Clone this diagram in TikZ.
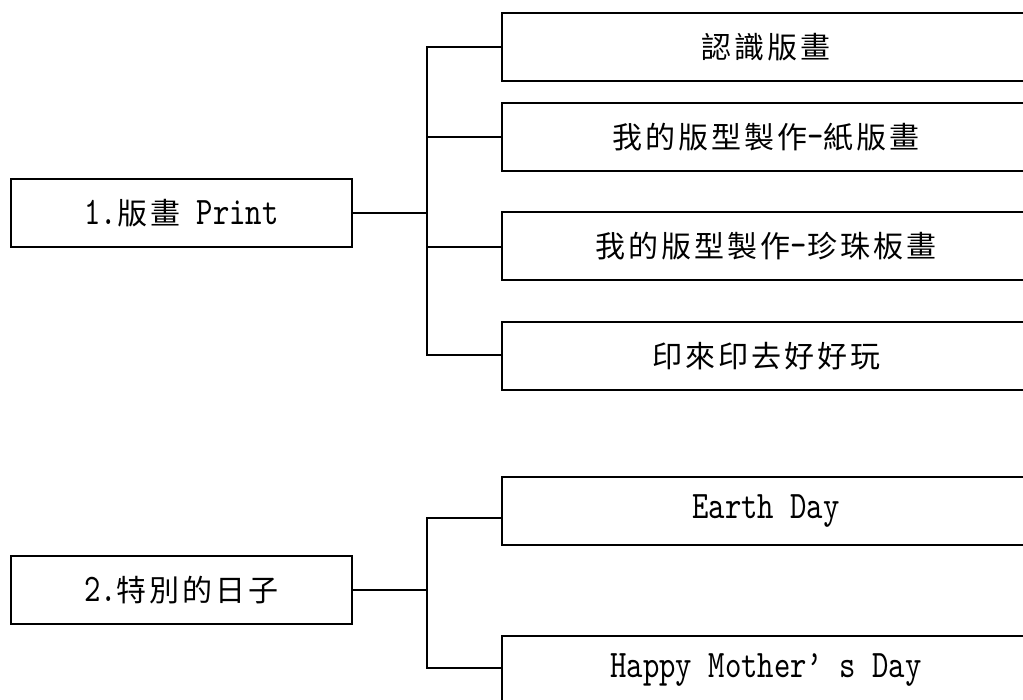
\documentclass[tikz,border=0pt]{standalone}
\usepackage{fontspec}
\newfontfamily\cjkfont[LetterSpace=10]{Noto Sans CJK TC}
\newfontfamily\latfont[Scale=1.3,FakeStretch=0.8]{lmmono10-regular.otf}
\newcommand\zh[1]{{\cjkfont #1}}
\newcommand\en[1]{{\latfont #1}}
\tikzset{
  box/.style={draw, line width=2pt, minimum height=68pt, inner sep=0pt,
    font=\fontsize{30}{32}\selectfont},
  lbox/.style={box, minimum width=341pt},
  rbox/.style={box, minimum width=528pt},
  conn/.style={line width=2pt}
}
\begin{document}
\begin{tikzpicture}[x=1pt,y=-1pt]
\useasboundingbox (0,0) rectangle (1023,699);
\clip (0,0) rectangle (1023,699);
% group 1
\node[lbox] (L1) at (181.5,213) {\en{1.}\zh{版畫}\en{ Print}};
\node[rbox] (R1) at (766,47) {\zh{認識版畫}};
\node[rbox] (R2) at (766,137) {\zh{我的版型製作}\en{-}\zh{紙版畫}};
\node[rbox] (R3) at (766,246) {\zh{我的版型製作}\en{-}\zh{珍珠板畫}};
\node[rbox] (R4) at (766,356) {\zh{印來印去好好玩}};
\coordinate (j1) at (427,47);
\coordinate (j2) at (427,137);
\coordinate (j3) at (427,247);
\coordinate (j4) at (427,355);
\draw[conn] (L1.east) -- (L1.east -| j1);
\draw[conn] (R1.west |- j1) -- (j1) -- (j4) -- (R4.west |- j4);
\draw[conn] (j2) -- (R2.west |- j2);
\draw[conn] (j3) -- (R3.west |- j3);
% group 2
\node[lbox] (L2) at (181.5,590) {\en{2.}\zh{特別的日子}};
\node[rbox] (R5) at (766,511) {\en{Earth Day}};
\node[rbox] (R6) at (766,670) {\en{Happy Mother’~s Day}};
\coordinate (k1) at (427,518);
\coordinate (k2) at (427,668);
\draw[conn] (L2.east) -- (L2.east -| k1);
\draw[conn] (R5.west |- k1) -- (k1) -- (k2) -- (R6.west |- k2);
\end{tikzpicture}
\end{document}
